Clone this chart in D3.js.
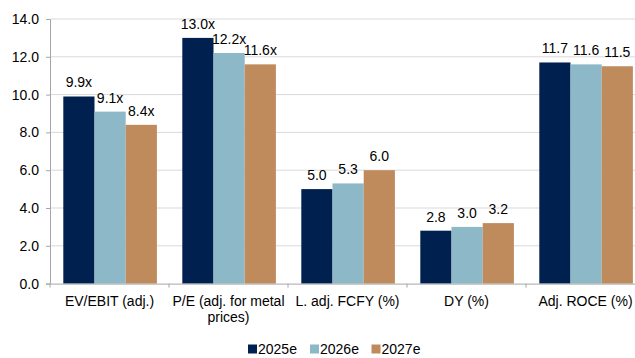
<!DOCTYPE html>
<html>
<head>
<meta charset="utf-8">
<script src="https://cdn.jsdelivr.net/npm/d3@7"></script>
<style>
  html, body { margin: 0; padding: 0; background: #fff; }
  svg { display: block; font-family: "Liberation Sans", Arial, sans-serif; }
</style>
</head>
<body>
<svg id="chart" width="635" height="358"></svg>
<script>
// Valuation metrics by year
const categories = ["EV/EBIT (adj.)", "P/E (adj. for metal prices)", "L. adj. FCFY (%)", "DY (%)", "Adj. ROCE (%)"];
const series = ["2025e", "2026e", "2027e"];
const values2025 = [9.9, 13.0, 5.0, 2.8, 11.7];
const values2026 = [9.1, 12.2, 5.3, 3.0, 11.6];
const values2027 = [8.4, 11.6, 6.0, 3.2, 11.5];
const labelSuffix = ["x", "x", "", "", ""];
const yTicks = [0, 2, 4, 6, 8, 10, 12, 14];
const colors = ["#00214f", "#8db8c7", "#bf8b5d"];

const seriesValues = [values2025, values2026, values2027];
const svg = d3.select("#chart");
const margin = { left: 50, top: 19 };
const plotBottom = 283.6;
const fontSize = 14;

const x = d3.scaleBand().domain(categories).range([margin.left, 645]).paddingInner(0).paddingOuter(0);
const inner = d3.scaleBand().domain(series).range([13.3, x.bandwidth() - 12.1]).padding(0);
const y = d3.scaleLinear().domain([0, 14]).range([plotBottom, margin.top]);

// Horizontal gridlines
svg.append("g")
  .selectAll("line")
  .data(yTicks.filter(t => t > 0))
  .join("line")
  .attr("x1", margin.left).attr("x2", 635)
  .attr("y1", d => y(d)).attr("y2", d => y(d))
  .attr("stroke", "#d9d9d9").attr("stroke-width", 1);

// Y axis
const yAxis = svg.append("g")
  .attr("transform", `translate(${margin.left},0)`)
  .call(d3.axisLeft(y).tickValues(yTicks).tickFormat(d3.format(".1f")).tickSize(4).tickPadding(7));
yAxis.select(".domain").attr("stroke", "#a6a6a6");
yAxis.selectAll(".tick line").attr("stroke", "#a6a6a6");
yAxis.selectAll("text").attr("font-size", fontSize).attr("fill", "#000")
  .style("font-family", "Liberation Sans, Arial, sans-serif");

// Bars
const groups = svg.append("g")
  .selectAll("g")
  .data(categories)
  .join("g")
  .attr("transform", d => `translate(${x(d)},0)`);

groups.selectAll("rect")
  .data((c, i) => series.map((s, j) => ({ s, j, v: seriesValues[j][i], i })))
  .join("rect")
  .attr("x", d => inner(d.s))
  .attr("width", inner.bandwidth())
  .attr("y", d => y(d.v))
  .attr("height", d => y(0) - y(d.v))
  .attr("fill", d => colors[d.j]);

// Value labels
groups.selectAll("text")
  .data((c, i) => series.map((s, j) => ({ s, j, v: seriesValues[j][i], i })))
  .join("text")
  .attr("x", d => inner(d.s) + inner.bandwidth() / 2)
  .attr("y", d => y(d.v) - 9)
  .attr("text-anchor", "middle")
  .attr("font-size", fontSize)
  .attr("fill", "#000")
  .text(d => d3.format(".1f")(d.v) + labelSuffix[d.i]);

// X axis
const xAxis = svg.append("g")
  .attr("transform", `translate(0,${plotBottom})`)
  .call(d3.axisBottom(x).tickSize(0).tickFormat(""));
xAxis.select(".domain").attr("stroke", "#a6a6a6");
xAxis.selectAll(".tick").remove();

// Category boundary ticks
svg.append("g")
  .selectAll("line")
  .data(d3.range(categories.length + 1))
  .join("line")
  .attr("x1", i => margin.left + i * x.bandwidth())
  .attr("x2", i => margin.left + i * x.bandwidth())
  .attr("y1", plotBottom).attr("y2", plotBottom + 4)
  .attr("stroke", "#a6a6a6");

// Category labels, wrapped to band width
const catLabels = svg.append("g")
  .selectAll("text")
  .data(categories)
  .join("text")
  .attr("x", d => x(d) + x.bandwidth() / 2)
  .attr("y", plotBottom + 22.5)
  .attr("text-anchor", "middle")
  .attr("font-size", fontSize)
  .attr("fill", "#000");

catLabels.each(function(d) {
  const el = d3.select(this);
  const words = d.split(" ");
  const maxW = x.bandwidth() - 2;
  let line = [];
  let tspan = el.append("tspan").attr("x", x(d) + x.bandwidth() / 2).attr("dy", 0);
  words.forEach(w => {
    line.push(w);
    tspan.text(line.join(" "));
    if (tspan.node().getComputedTextLength() > maxW && line.length > 1) {
      line.pop();
      tspan.text(line.join(" "));
      line = [w];
      tspan = el.append("tspan").attr("x", x(d) + x.bandwidth() / 2).attr("dy", 15.5).text(w);
    }
  });
});

// Legend
const legendX = [248, 310, 371.5];
const legend = svg.append("g")
  .selectAll("g")
  .data(series)
  .join("g")
  .attr("transform", (d, i) => `translate(${legendX[i]},349)`);
legend.append("rect")
  .attr("x", 0).attr("y", -4.5).attr("width", 9).attr("height", 9)
  .attr("fill", (d, i) => colors[i]);
legend.append("text")
  .attr("x", 10).attr("y", 5)
  .attr("font-size", fontSize)
  .attr("fill", "#000")
  .text(d => d);
</script>
</body>
</html>
